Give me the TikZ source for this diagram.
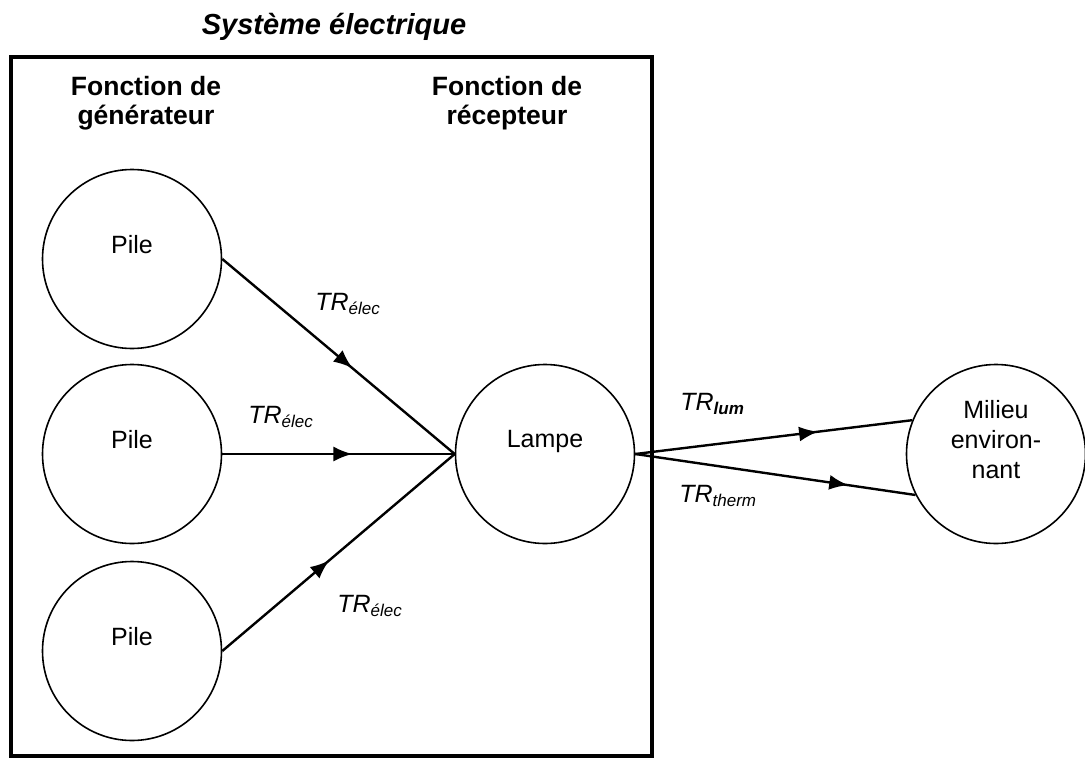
\documentclass[tikz,border=0pt]{standalone}
\usepackage{fontspec}
\setmainfont{Liberation Sans}
\usetikzlibrary{arrows.meta,decorations.markings}

\tikzset{every picture/.style={line width=0.75pt}}
\tikzset{
  bloc/.style={circle, draw, line width=1.6pt, minimum size=179pt, inner sep=0pt,
    text depth=30pt, align=center, font=\fontsize{25}{30}\selectfont},
  flux/.style={line width=2.4pt, postaction={decorate},
    decoration={markings, mark=at position #1 with {\arrow{Latex[length=19pt,width=15pt]}}}},
  etiq/.style={anchor=base west, inner sep=0pt, font=\fontsize{25}{30}\selectfont\itshape},
  entete/.style={anchor=north, inner sep=0pt, align=center, font=\fontsize{26.5}{29}\selectfont\bfseries}
}
\newcommand{\trsub}[1]{TR\raisebox{-4pt}{\fontsize{17}{17}\selectfont #1}}

\begin{document}
\begin{tikzpicture}[x=1pt,y=1pt,yscale=-1,xscale=1]
\useasboundingbox (0,0) rectangle (1085,758);

% cadre du systeme
\draw [line width=4pt] (11,57) rectangle (652,756);
\node (titre) [anchor=base, inner sep=0pt, font=\fontsize{29}{34}\selectfont\bfseries\itshape] at (334,34) {Système électrique};
\node (gen) [entete] at (146,76) {Fonction de\\générateur};
\node (rec) [entete] at (507,76) {Fonction de\\récepteur};

% les blocs
\node (p1) [bloc] at (132,259) {Pile};
\node (p2) [bloc] at (132,454) {Pile};
\node (p3) [bloc] at (132,651) {Pile};
\node (lampe) [bloc] at (545,454) {Lampe};
\node (mil) [bloc] at (996,454) {Milieu\\environ-\\nant};

% transferts
\draw [flux=0.56] (p1.east) -- (lampe.west);
\draw [flux=0.56] (p2.east) -- (lampe.west);
\draw [flux=0.46] (p3.east) -- (lampe.west);
\draw [flux=0.66] (lampe.east) -- (mil.158);
\draw [flux=0.76] (lampe.east) -- (mil.207);

\node (t1) [etiq] at (315,310) {\trsub{élec}};
\node (t2) [etiq] at (248,423) {\trsub{élec}};
\node (t3) [etiq] at (337,612) {\trsub{élec}};
\node (t4) [etiq] at (680,410) {\trsub{\bfseries lum}};
\node (t5) [etiq] at (679,502) {\trsub{therm}};
\end{tikzpicture}
\end{document}
